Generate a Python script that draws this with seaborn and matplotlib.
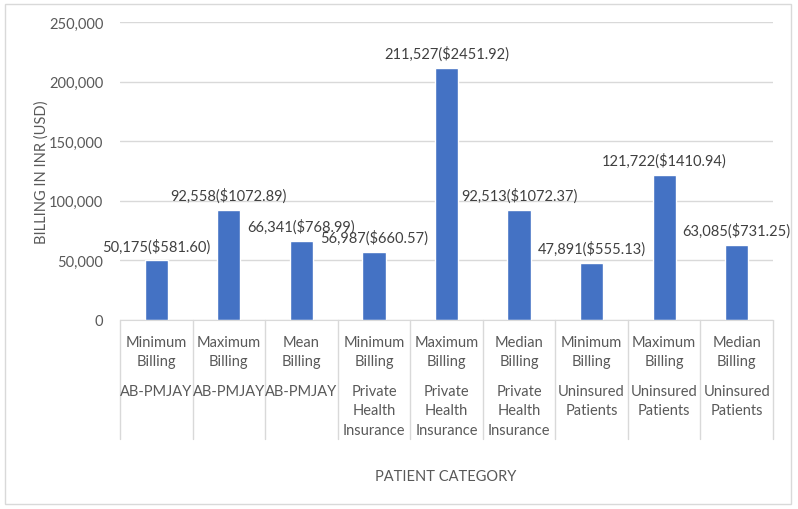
import numpy as np
import pandas as pd
import seaborn as sns
from matplotlib import pyplot as plt
from matplotlib.patches import Rectangle
from matplotlib.ticker import FuncFormatter

metrics = ["Minimum\nBilling", "Maximum\nBilling", "Mean\nBilling",
           "Minimum\nBilling", "Maximum\nBilling", "Median\nBilling",
           "Minimum\nBilling", "Maximum\nBilling", "Median\nBilling"]
groups = ["AB-PMJAY", "AB-PMJAY", "AB-PMJAY",
          "Private\nHealth\nInsurance", "Private\nHealth\nInsurance", "Private\nHealth\nInsurance",
          "Uninsured\nPatients", "Uninsured\nPatients", "Uninsured\nPatients"]
inr = [50175, 92558, 66341, 56987, 211527, 92513, 47891, 121722, 63085]
usd = [581.60, 1072.89, 768.99, 660.57, 2451.92, 1072.37, 555.13, 1410.94, 731.25]

sns.set_style("white")
plt.rcParams['font.family'] = ['Lato', 'DejaVu Sans']

df = pd.DataFrame({"key": [f"{m}|{g}|{i}" for i, (m, g) in enumerate(zip(metrics, groups))],
                   "inr": inr})

GREY = "#595959"
LINE = "#D9D9D9"

fig = plt.figure(figsize=(7.98, 5.1), dpi=100)
ax = fig.add_axes([120 / 798, 1 - 321 / 510, 653 / 798, 298 / 510])
fig.patches.append(Rectangle((5 / 798, 5 / 510), 786 / 798, 500 / 510, transform=fig.transFigure,
                             fill=False, edgecolor=LINE, linewidth=1))

sns.barplot(data=df, x="key", y="inr", color="#4472C4", width=0.32, saturation=1, ax=ax)

ax.set_ylim(0, 250000)
ax.set_xlim(-0.5, len(inr) - 0.5)
ax.set_yticks(np.arange(0, 250001, 50000))
ax.yaxis.set_major_formatter(FuncFormatter(lambda v, p: f"{int(v):,}"))
ax.tick_params(axis="y", length=0, pad=12, labelsize=10.5, labelcolor=GREY)
ax.set_xticks([])
ax.grid(axis="y", color=LINE, linewidth=1)
ax.set_axisbelow(True)
for s in ["left", "right", "top"]:
    ax.spines[s].set_visible(False)
ax.spines["bottom"].set_color(LINE)

labels = [f"{v:,}(${u:.2f})" for v, u in zip(inr, usd)]
ax.bar_label(ax.containers[0], labels=labels, padding=5, fontsize=10.5, color="#404040")

trans = ax.get_xaxis_transform()
for i in range(len(inr) + 1):
    ax.plot([i - 0.5, i - 0.5], [0, -119 / 298], transform=trans, color=LINE, lw=1, clip_on=False)
for i, (m, g) in enumerate(zip(metrics, groups)):
    ax.text(i, -15 / 298, m, transform=trans, ha="center", va="top", fontsize=10.5,
            color=GREY, linespacing=1.5)
    ax.text(i, -64 / 298, g, transform=trans, ha="center", va="top", fontsize=10.5,
            color=GREY, linespacing=1.5)

ax.set_xlabel("")
ax.set_ylabel("BILLING IN INR (USD)", fontsize=10.5, color=GREY, labelpad=0)
fig.text(446 / 798, 1 - 477 / 510, "PATIENT CATEGORY", ha="center", va="center",
         fontsize=10.5, color=GREY)

plt.savefig("out.png", dpi=100)
